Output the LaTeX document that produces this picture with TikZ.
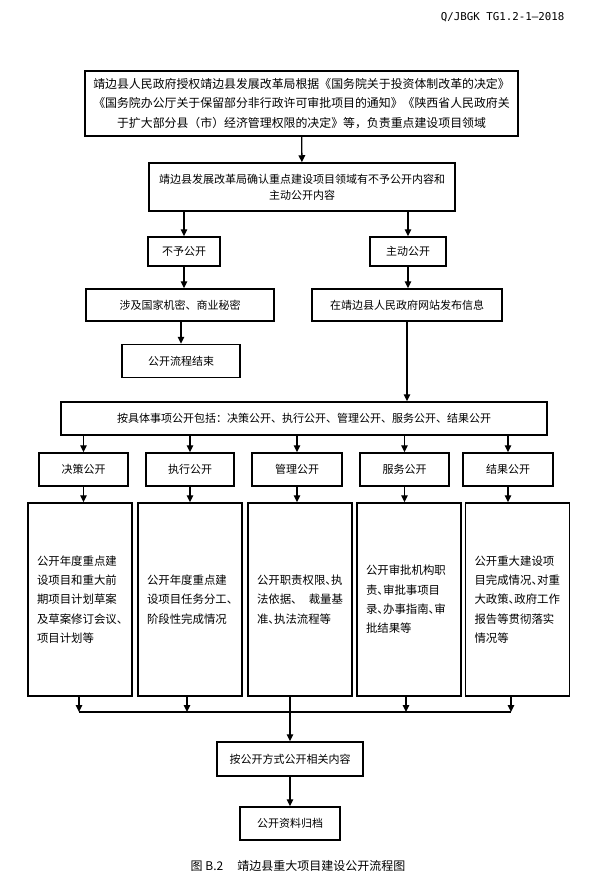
\documentclass[tikz,border=0pt]{standalone}
\usepackage{fontspec}
\usepackage{tikz}
\usetikzlibrary{arrows.meta}
\setmainfont{Noto Sans CJK SC}
\newfontfamily\halfpunct[RawFeature=+halt]{Noto Sans CJK SC}
\newfontfamily\codefont{DejaVu Sans Mono}
\tikzset{
  flow box/.style={
    draw, line width=1.5pt, inner sep=0pt, align=center,
    font=\fontsize{11}{16}\selectfont,
    minimum height=33pt
  },
  tall box/.style={
    inner xsep=9pt, inner ysep=0pt, text width=86pt, align=left,
    minimum width=104pt, minimum height=193pt,
    font=\halfpunct\fontsize{11.4}{19.3}\selectfont
  },
  flow arrow/.style={
    draw, line width=1.4pt
  }
}

\begin{document}
\begin{tikzpicture}[x=1pt,y=-1pt]
    \useasboundingbox (0,0) rectangle (593,883);

    \node (NO) at (568,17) [anchor=east, font=\codefont\fontsize{10.8}{12}\selectfont] {Q/JBGK TG1.2-1—2018};

    \begin{scope}[every node/.style={flow box}]
        \node (SQ) at (301.5,103.5) [minimum width=433pt, minimum height=65pt, font=\fontsize{11.9}{19.5}\selectfont]
            {靖边县人民政府授权靖边县发展改革局根据《国务院关于投资体制改革的决定》\\
             《国务院办公厅关于保留部分非行政许可审批项目的通知》《陕西省人民政府关\\
             于扩大部分县（市）经济管理权限的决定》等，负责重点建设项目领域};
        \node (QR) at (302,187) [minimum width=306pt, minimum height=48pt]
            {靖边县发展改革局确认重点建设项目领域有不予公开内容和\\主动公开内容};

        \node (BY) at (184,251.5) [minimum width=72pt, minimum height=29pt] {不予公开};
        \node (ZD) at (408,251.5) [minimum width=76pt, minimum height=29pt] {主动公开};
        \node (SJ) at (180,305)   [minimum width=188pt, minimum height=32pt] {涉及国家机密、商业秘密};
        \node (WZ) at (407,305)   [minimum width=190pt, minimum height=32pt] {在靖边县人民政府网站发布信息};
        \node (JS) at (181,361)   [minimum width=118pt] {公开流程结束};

        \node (AX) at (304,418.5) [minimum width=486pt]
            {按具体事项公开包括：决策公开、执行公开、管理公开、服务公开、结果公开};

        \node (JC) at (83.5,469.5) [minimum width=89pt] {决策公开};
        \node (ZX) at (190,469.5)  [minimum width=88pt] {执行公开};
        \node (GL) at (297,469.5)  [minimum width=90pt] {管理公开};
        \node (FW) at (404.5,469.5)[minimum width=89pt] {服务公开};
        \node (JG) at (508,469.5)  [minimum width=90pt] {结果公开};

        \node (T1) at (80,599.5)    [tall box] {公开年度重点建\\设项目和重大前\\期项目计划草案\\及草案修订会议、\\项目计划等};
        \node (T2) at (190,599.5)   [tall box] {公开年度重点建\\设项目任务分工、\\阶段性完成情况};
        \node (T3) at (300,599.5)   [tall box] {公开职责权限、执\\法依据、\hskip 0pt plus 1filll 裁量基\\准、执法流程等};
        \node (T4) at (409,599.5)   [tall box] {公开审批机构职\\责、审批事项目\\录、办事指南、审\\批结果等};
        \node (T5) at (517.5,599.5) [tall box] {公开重大建设项\\目完成情况、对重\\大政策、政府工作\\报告等贯彻落实\\情况等};

        \node (AF) at (290,759)   [minimum width=146pt, minimum height=34pt] {按公开方式公开相关内容};
        \node (GD) at (290,823.5) [minimum width=100pt] {公开资料归档};
    \end{scope}

    \node (CAP) at (298,866) [font=\fontsize{12}{14}\selectfont] {图 B.2\hspace{14pt}靖边县重大项目建设公开流程图};

    \coordinate (M1) at (79,712);
    \coordinate (M2) at (187,712);
    \coordinate (M4) at (406,712);
    \coordinate (M5) at (511,712);

    \begin{scope}[>={Triangle[length=7pt,width=6.5pt]}, every edge/.style={flow arrow}]
        \path [->] (SQ) edge (QR);
        \path [->] (QR.south -| BY) edge (BY);
        \path [->] (QR.south -| ZD) edge (ZD);

        \path [->] (BY) edge (BY |- SJ.north);
        \path [->] (SJ.south -| JS) edge (JS);

        \path [->] (ZD) edge (ZD |- WZ.north);
        \path [->] (WZ) edge (WZ |- AX.north);

        \path [->] (AX.south -| JC) edge (JC);
        \path [->] (AX.south -| ZX) edge (ZX);
        \path [->] (AX.south -| GL) edge (GL);
        \path [->] (AX.south -| FW) edge (FW);
        \path [->] (AX.south -| JG) edge (JG);

        \path [->] (JC) edge (JC |- T1.north);
        \path [->] (ZX) edge (ZX |- T2.north);
        \path [->] (GL) edge (GL |- T3.north);
        \path [->] (FW) edge (FW |- T4.north);
        \path [->] (JG) edge (JG |- T5.north);

        \path [->] (T1.south -| M1) edge (M1);
        \path [->] (T2.south -| M2) edge (M2);
        \path [->] (T4.south -| M4) edge (M4);
        \path [->] (T5.south -| M5) edge (M5);
        \path (M1) edge (M5);

        \path [->] (T3.south -| AF) edge (AF);
        \path [->] (AF) edge (GD);
    \end{scope}
\end{tikzpicture}
\end{document}
